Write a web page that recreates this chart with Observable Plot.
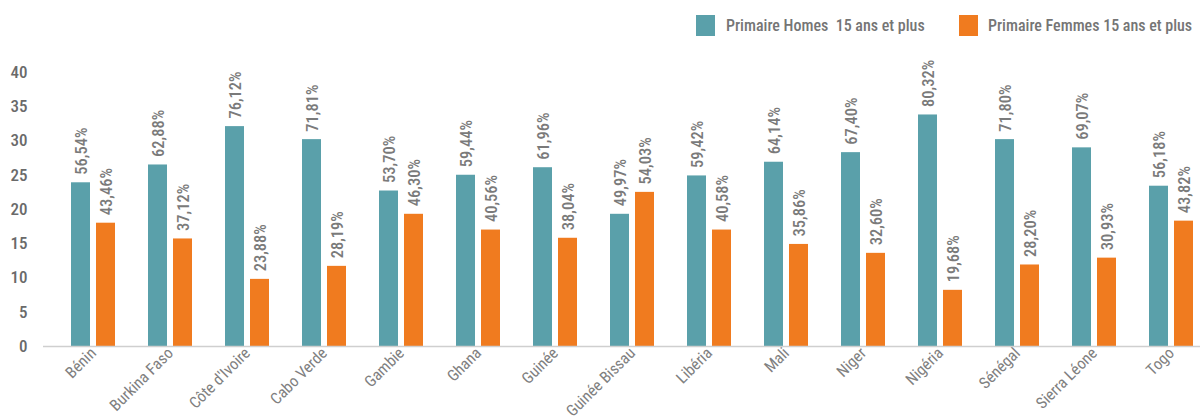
<!DOCTYPE html>
<html>
<head>
<meta charset="utf-8">
<script src="https://cdn.jsdelivr.net/npm/d3@7"></script>
<script src="https://cdn.jsdelivr.net/npm/@observablehq/plot@0.6"></script>
<style>
  body { margin: 0; background: #fff; font-family: "Roboto Condensed", "Roboto", sans-serif; }
  #wrap { position: relative; width: 1202px; }
  #legend { position: relative; height: 50px; color: #757575; font-size: 16px; font-weight: 500; }
  .sw { position: absolute; top: 15px; width: 19px; height: 21px; }
  .lt { position: absolute; top: 16px; line-height: 19px; white-space: pre; }
</style>
</head>
<body>
<div id="wrap">
  <div id="legend"></div>
  <div id="chart"></div>
</div>
<script>
const countries = ["Bénin", "Burkina Faso", "Côte d'Ivoire", "Cabo Verde", "Gambie", "Ghana", "Guinée", "Guinée Bissau", "Libéria", "Mali", "Niger", "Nigéria", "Sénégal", "Sierra Léone", "Togo"];
const seriesNames = ["Primaire Homes  15 ans et plus", "Primaire Femmes 15 ans et plus"];
const menValues = [23.9, 26.5, 32.1, 30.2, 22.7, 25.0, 26.1, 19.3, 24.9, 26.9, 28.3, 33.8, 30.2, 29.0, 23.4];
const womenValues = [18.0, 15.7, 9.8, 11.7, 19.3, 17.0, 15.8, 22.5, 17.0, 14.9, 13.6, 8.2, 11.9, 12.9, 18.3];
const menLabels = ["56,54%", "62,88%", "76,12%", "71,81%", "53,70%", "59,44%", "61,96%", "49,97%", "59,42%", "64,14%", "67,40%", "80,32%", "71,80%", "69,07%", "56,18%"];
const womenLabels = ["43,46%", "37,12%", "23,88%", "28,19%", "46,30%", "40,56%", "38,04%", "54,03%", "40,58%", "35,86%", "32,60%", "19,68%", "28,20%", "30,93%", "43,82%"];
const yTicks = [0, 5, 10, 15, 20, 25, 30, 35, 40];
const colors = ["#5AA0AA", "#F07B1F"];

const men = countries.map((c, i) => ({country: c, value: menValues[i], label: menLabels[i]}));
const women = countries.map((c, i) => ({country: c, value: womenValues[i], label: womenLabels[i]}));

// legend
const legend = document.getElementById("legend");
const legendPos = [[696, 726], [959, 988]];
seriesNames.forEach((name, i) => {
  const sw = document.createElement("div");
  sw.className = "sw";
  sw.style.left = legendPos[i][0] + "px";
  sw.style.background = colors[i];
  const t = document.createElement("div");
  t.className = "lt";
  t.style.left = legendPos[i][1] + "px";
  t.textContent = name;
  legend.appendChild(sw);
  legend.appendChild(t);
});

const font = "'Roboto Condensed', 'Roboto', sans-serif";

const chart = Plot.plot({
  width: 1202,
  height: 367,
  marginLeft: 43,
  marginRight: 2,
  marginTop: 22,
  marginBottom: 71,
  style: {fontFamily: font, color: "#777", background: "#fff"},
  x: {domain: countries, paddingInner: 0.43, paddingOuter: 0.2, align: 0.8, label: null},
  y: {domain: [0, 40], label: null},
  marks: [
    Plot.axisY({ticks: yTicks, tickSize: 0, tickPadding: 16, fontSize: 17, fontWeight: 500, fill: "#6a6a6a", label: null}),
    Plot.axisX({tickSize: 0, tickPadding: 4, tickRotate: -45, fontSize: 16, fill: "#808080", label: null}),
    Plot.barY(men, {x: "country", y: "value", fill: colors[0], insetRight: 25}),
    Plot.barY(women, {x: "country", y: "value", fill: colors[1], insetLeft: 25}),
    Plot.ruleY([0], {stroke: "#cfcfcf", strokeWidth: 1.5}),
    Plot.text(men, {x: "country", y: "value", text: "label", rotate: -90, textAnchor: "start", lineAnchor: "middle", dx: -12, dy: -8, fontSize: 16.5, fontWeight: 500, fill: "#7a7a7a"}),
    Plot.text(women, {x: "country", y: "value", text: "label", rotate: -90, textAnchor: "start", lineAnchor: "middle", dx: 13, dy: -8, fontSize: 16.5, fontWeight: 500, fill: "#7a7a7a"})
  ]
});
document.getElementById("chart").appendChild(chart);
</script>
</body>
</html>
